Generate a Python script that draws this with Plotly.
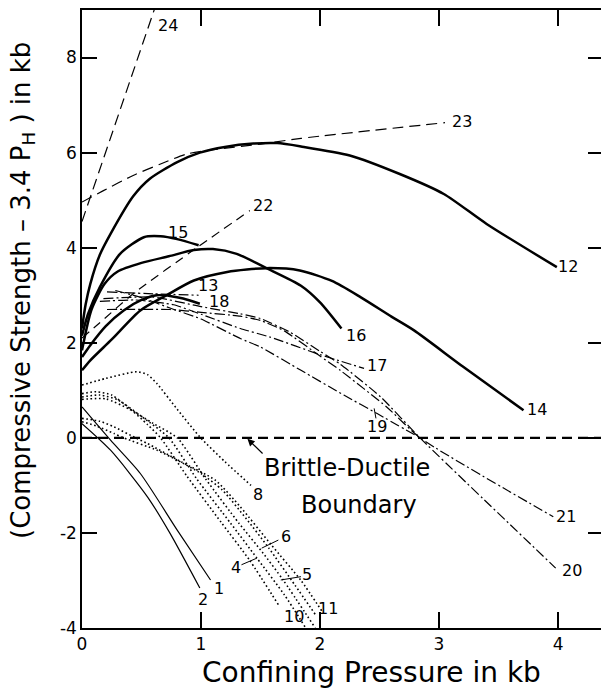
import plotly.graph_objects as go

# ---------------- data ----------------
# thick solid curves
c12_x = [0, 0.03, 0.07, 0.15, 0.24, 0.43, 0.57, 0.8, 0.99, 1.2, 1.44, 1.64, 1.84, 2.25, 2.67, 3.04, 3.4, 3.99]
c12_y = [2.3, 2.8, 3.24, 3.85, 4.29, 5.08, 5.45, 5.8, 6.0, 6.12, 6.19, 6.2, 6.13, 5.94, 5.55, 5.13, 4.5, 3.59]
c15_x = [0, 0.05, 0.15, 0.32, 0.52, 0.66, 0.8, 0.98]
c15_y = [2.15, 2.6, 3.17, 3.87, 4.22, 4.24, 4.18, 4.05]
c16_x = [0, 0.08, 0.19, 0.3, 0.5, 0.73, 0.94, 1.1, 1.3, 1.55, 1.84, 2.0, 2.18]
c16_y = [1.84, 2.7, 3.24, 3.5, 3.68, 3.82, 3.95, 3.97, 3.87, 3.57, 3.2, 2.85, 2.3]
c13_x = [0, 0.07, 0.2, 0.35, 0.5, 0.63, 0.75, 0.85, 0.99]
c13_y = [1.7, 1.95, 2.35, 2.68, 2.9, 3.0, 2.98, 2.93, 2.82]
c14_x = [0, 0.07, 0.25, 0.49, 0.71, 0.94, 1.22, 1.55, 1.83, 2.1, 2.34, 2.6, 2.79, 3.2, 3.71]
c14_y = [1.42, 1.63, 2.07, 2.68, 3.0, 3.31, 3.49, 3.57, 3.52, 3.3, 2.96, 2.55, 2.26, 1.5, 0.58]

# thin solid curves
c1_x = [0, 0.24, 0.49, 0.8, 1.08]
c1_y = [0.65, -0.05, -0.75, -1.94, -2.99]
c2_x = [0, 0.24, 0.55, 0.74, 0.99]
c2_y = [0.3, -0.26, -1.24, -2.01, -3.16]

# long-dashed lines
c22_x = [0, 0.14, 0.43, 0.97, 1.41]
c22_y = [2.1, 2.4, 3.03, 4.01, 4.78]
c23_x = [0, 0.18, 0.43, 0.66, 0.88, 1.1, 1.5, 1.84, 3.05]
c23_y = [4.96, 5.2, 5.52, 5.76, 5.97, 6.06, 6.18, 6.3, 6.63]
c24_x = [0, 0.62]
c24_y = [4.55, 9.1]

# dash-dot curves
c18_x = [0.21, 0.6, 0.98]
c18_y = [3.07, 3.03, 3.0]
c17_x = [0.15, 0.45, 0.77, 1.0, 1.33, 1.58, 2.0, 2.37]
c17_y = [2.87, 2.9, 2.8, 2.6, 2.3, 2.12, 1.75, 1.46]
c19_x = [0.28, 0.5, 0.75, 1.0, 1.33, 1.5, 1.84, 2.2, 2.48, 2.84]
c19_y = [3.1, 2.95, 2.72, 2.5, 2.09, 1.91, 1.42, 0.9, 0.51, 0.0]
c20_x = [0.18, 0.6, 1.0, 1.33, 1.5, 1.75, 2.0, 2.17, 2.51, 2.84, 3.98]
c20_y = [2.93, 2.96, 2.76, 2.61, 2.51, 2.22, 1.82, 1.55, 0.86, 0.0, -2.74]
c21_x = [0.21, 0.74, 1.0, 1.33, 1.5, 1.7, 2.0, 2.17, 2.56, 2.84, 3.96]
c21_y = [2.7, 2.7, 2.64, 2.56, 2.47, 2.25, 1.72, 1.42, 0.65, 0.0, -1.66]

# dotted curves
c8_x = [0, 0.2, 0.46, 0.55, 0.63, 0.8, 0.99, 1.2, 1.42]
c8_y = [1.11, 1.25, 1.39, 1.33, 1.14, 0.6, 0.02, -0.5, -1.0]
c10_x = [0, 0.12, 0.25, 0.4, 0.55, 0.66, 0.88, 1.17, 1.41, 1.66]
c10_y = [0.93, 0.97, 0.9, 0.62, 0.28, 0.0, -0.8, -1.78, -2.58, -3.55]
c4_x = [0, 0.15, 0.3, 0.5, 0.73, 0.96, 1.25, 1.47, 1.7, 1.88]
c4_y = [0.86, 0.9, 0.8, 0.45, 0.0, -0.85, -1.8, -2.53, -3.3, -4.0]
c5_x = [0, 0.2, 0.4, 0.6, 0.8, 1.04, 1.32, 1.52, 1.69, 1.96]
c5_y = [0.81, 0.82, 0.6, 0.3, 0.0, -0.87, -1.8, -2.42, -2.99, -4.0]
c6_x = [0, 0.12, 0.27, 0.35, 0.63, 0.8, 1.0, 1.18, 1.38, 1.57, 1.79, 1.97]
c6_y = [0.34, 0.25, 0.09, 0.0, -0.26, -0.47, -0.75, -1.1, -1.7, -2.32, -3.1, -3.75]
c11_x = [0, 0.15, 0.27, 0.45, 0.55, 0.83, 1.12, 1.33, 1.59, 1.84, 2.02]
c11_y = [0.41, 0.35, 0.23, 0.0, -0.12, -0.5, -0.89, -1.45, -2.25, -3.0, -3.66]

# brittle-ductile boundary
bd_x = [0, 4.4]
bd_y = [0, 0]

# curve labels
lab_text = ["24", "23", "22", "12", "15", "13", "18", "16", "17", "14", "19",
            "21", "20", "8", "6", "4", "5", "10", "11", "1", "2"]
lab_x = [0.72, 3.19, 1.52, 4.08, 0.805, 1.057, 1.155, 2.30, 2.48, 3.82, 2.48,
         4.07, 4.12, 1.48, 1.71, 1.29, 1.89, 1.78, 2.07, 1.15, 1.02]
lab_y = [8.67, 6.66, 4.89, 3.61, 4.33, 3.21, 2.87, 2.16, 1.53, 0.60, 0.23,
         -1.66, -2.78, -1.20, -2.08, -2.72, -2.88, -3.76, -3.58, -3.16, -3.41]

# leader lines (label -> curve)
lead_x0 = [1.34, 1.51, 1.67, 2.455]
lead_y0 = [-2.67, -2.32, -2.99, 0.62]
lead_x1 = [1.47, 1.65, 1.84, 2.47]
lead_y1 = [-2.53, -2.15, -2.92, 0.41]

x_tickvals = [0, 1, 2, 3, 4]
x_ticktext = ["0", "1", "2", "3", "4"]
y_tickvals = [-4, -2, 0, 2, 4, 6, 8]
y_ticktext = ["-4", "-2", "0", "2", "4", "6", "8"]

# ---------------- figure ----------------
FONT = "DejaVu Sans"
fig = go.Figure()


def add(x, y, width, dash="solid", spline=True, smooth=0.7):
    fig.add_trace(go.Scatter(
        x=x, y=y, mode="lines",
        line=dict(color="black", width=width, dash=dash,
                  shape="spline" if spline else "linear",
                  smoothing=smooth if spline else None),
        hoverinfo="skip", showlegend=False))


for cx, cy in [(c12_x, c12_y), (c15_x, c15_y), (c16_x, c16_y), (c13_x, c13_y), (c14_x, c14_y)]:
    add(cx, cy, 2.5)
for cx, cy in [(c1_x, c1_y), (c2_x, c2_y)]:
    add(cx, cy, 1.2)
add(c22_x, c22_y, 1.2, dash="9px,6px")
add(c23_x, c23_y, 1.2, dash="11px,6px")
add(c24_x, c24_y, 1.2, dash="11px,6px", spline=False)
for cx, cy in [(c18_x, c18_y), (c17_x, c17_y), (c19_x, c19_y), (c20_x, c20_y), (c21_x, c21_y)]:
    add(cx, cy, 1.2, dash="10px,3px,2px,3px", smooth=0.5)
for cx, cy in [(c8_x, c8_y), (c10_x, c10_y), (c4_x, c4_y), (c5_x, c5_y), (c6_x, c6_y), (c11_x, c11_y)]:
    add(cx, cy, 1.6, dash="1.6px,2.6px", smooth=0.6)
add(bd_x, bd_y, 2.2, dash="10px,6px", spline=False)

# invisible trace to activate right-hand tick axis
fig.add_trace(go.Scatter(x=[0], y=[0], yaxis="y2", mode="markers",
                         marker=dict(opacity=0), hoverinfo="skip", showlegend=False))

annotations = []
for t, x, y in zip(lab_text, lab_x, lab_y):
    annotations.append(dict(x=x, y=y, xref="x", yref="y", text=t, showarrow=False,
                            font=dict(family=FONT, size=16, color="black")))

shapes = []
for x0, y0, x1, y1 in zip(lead_x0, lead_y0, lead_x1, lead_y1):
    shapes.append(dict(type="line", xref="x", yref="y", x0=x0, y0=y0, x1=x1, y1=y1,
                       line=dict(color="black", width=1)))

# boundary text and arrow
annotations.append(dict(x=2.225, y=-0.64, xref="x", yref="y", text="Brittle-Ductile",
                        showarrow=False, font=dict(family=FONT, size=24, color="black")))
annotations.append(dict(x=2.33, y=-1.41, xref="x", yref="y", text="Boundary",
                        showarrow=False, font=dict(family=FONT, size=24, color="black")))
annotations.append(dict(x=1.39, y=-0.02, xref="x", yref="y", ax=1.53, ay=-0.36,
                        axref="x", ayref="y", text="", showarrow=True,
                        arrowhead=2, arrowsize=1.2, arrowwidth=1.2, arrowcolor="black"))

# axis titles
annotations.append(dict(x=0.557, y=-0.0728, xref="paper", yref="paper",
                        text="Confining Pressure in kb", showarrow=False,
                        xanchor="center", yanchor="middle",
                        font=dict(family=FONT, size=28, color="black")))
annotations.append(dict(x=-0.1137, y=0.547, xref="paper", yref="paper",
                        text="(Compressive Strength \u2013 3.4 P<sub>H</sub> ) in kb",
                        showarrow=False, textangle=-90,
                        xanchor="center", yanchor="middle",
                        font=dict(family=FONT, size=26, color="black")))

fig.update_layout(
    width=601, height=691,
    margin=dict(l=82, r=0, t=10, b=63),
    paper_bgcolor="white", plot_bgcolor="white",
    showlegend=False,
    annotations=annotations, shapes=shapes,
    xaxis=dict(range=[0, 4.361], tickvals=x_tickvals, ticktext=x_ticktext,
               ticks="inside", ticklen=16, tickwidth=1.5, tickcolor="black",
               showline=True, linecolor="black", linewidth=2, mirror="ticks",
               showgrid=False, zeroline=False,
               tickfont=dict(family=FONT, size=17, color="black")),
    yaxis=dict(range=[-4, 9], tickvals=y_tickvals, ticktext=y_ticktext,
               ticks="inside", ticklen=15, tickwidth=1.5, tickcolor="black",
               showline=True, linecolor="black", linewidth=1.5,
               showgrid=False, zeroline=False,
               tickfont=dict(family=FONT, size=17, color="black")),
    yaxis2=dict(range=[-4, 9], overlaying="y", side="right", tickvals=y_tickvals,
                ticks="inside", ticklen=13, tickwidth=1.5, tickcolor="black",
                showticklabels=False, showline=False, showgrid=False, zeroline=False),
)

fig.write_html("out.html")
